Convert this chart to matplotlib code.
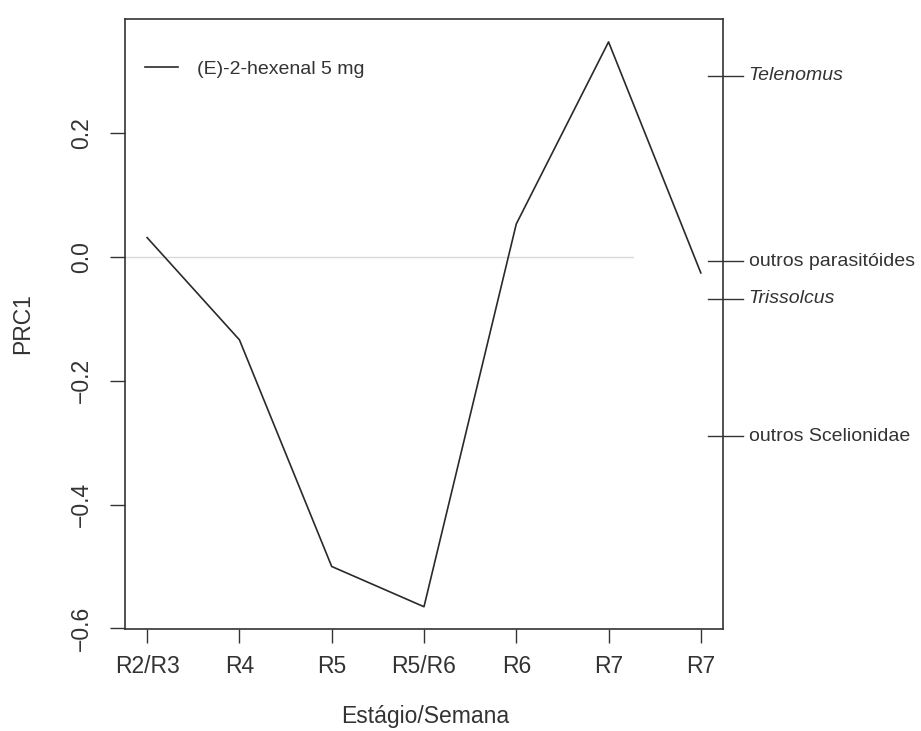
import matplotlib
matplotlib.use("Agg")
import matplotlib.pyplot as plt

plt.rcParams['font.family'] = ['Liberation Sans', 'DejaVu Sans']

# data
stages = ["R2/R3", "R4", "R5", "R5/R6", "R6", "R7", "R7"]
prc1 = [0.031, -0.134, -0.500, -0.565, 0.053, 0.347, -0.026]
species = ["Telenomus", "outros parasitóides", "Trissolcus", "outros Scelionidae"]
species_scores = [0.292, -0.007, -0.068, -0.290]
species_italic = [True, False, True, False]

x = list(range(1, len(stages) + 1))

fig = plt.figure(figsize=(9.21, 7.31), dpi=100)
ax = fig.add_axes([0.1357, 0.1395, 0.6493, 0.8345])

ax.axhline(0, xmin=0, xmax=0.85, color='#d9d9d9', lw=1.0, zorder=1)
ax.plot(x, prc1, color='#2a2a2a', lw=1.2, label='(E)-2-hexenal 5 mg', zorder=3)

ax.set_xlim(0.76, 7.24)
ax.set_ylim(-0.601, 0.384)
ax.set_xticks(x)
ax.set_xticklabels(stages)
ax.set_yticks([-0.6, -0.4, -0.2, 0.0, 0.2])
ax.set_yticklabels(["\u22120.6", "\u22120.4", "\u22120.2", "0.0", "0.2"],
                   rotation=90, va='center')

for s in ax.spines.values():
    s.set_color('#333333')
    s.set_linewidth(1.2)
ax.tick_params(axis='x', length=10, width=1.0, color='#333333', pad=9,
               labelsize=16.5, labelcolor='#333333')
ax.tick_params(axis='y', length=11, width=1.0, color='#333333', pad=12,
               labelsize=16.5, labelcolor='#333333')

ax.set_xlabel("Estágio/Semana", fontsize=16.5, color='#333333')
ax.xaxis.set_label_coords(0.502, -0.125)
ax.set_ylabel("PRC1", fontsize=16.5, color='#333333')
ax.yaxis.set_label_coords(-0.152, 0.5)

# species scores on the right side
tr = ax.get_yaxis_transform()
for name, sc, it in zip(species, species_scores, species_italic):
    ax.plot([0.975, 1.033], [sc, sc], transform=tr, color='#333333',
            lw=1.0, clip_on=False)
    ax.text(1.043, sc, name, transform=tr, va='center', ha='left',
            fontsize=14, color='#333333', style='italic' if it else 'normal')

leg = ax.legend(loc='upper left', bbox_to_anchor=(0.033, 0.932), frameon=False,
                fontsize=14, handlelength=1.7, borderaxespad=0, borderpad=0,
                handletextpad=1.0)
for t in leg.get_texts():
    t.set_color('#333333')

fig.savefig("out.png", dpi=100, facecolor='white')
